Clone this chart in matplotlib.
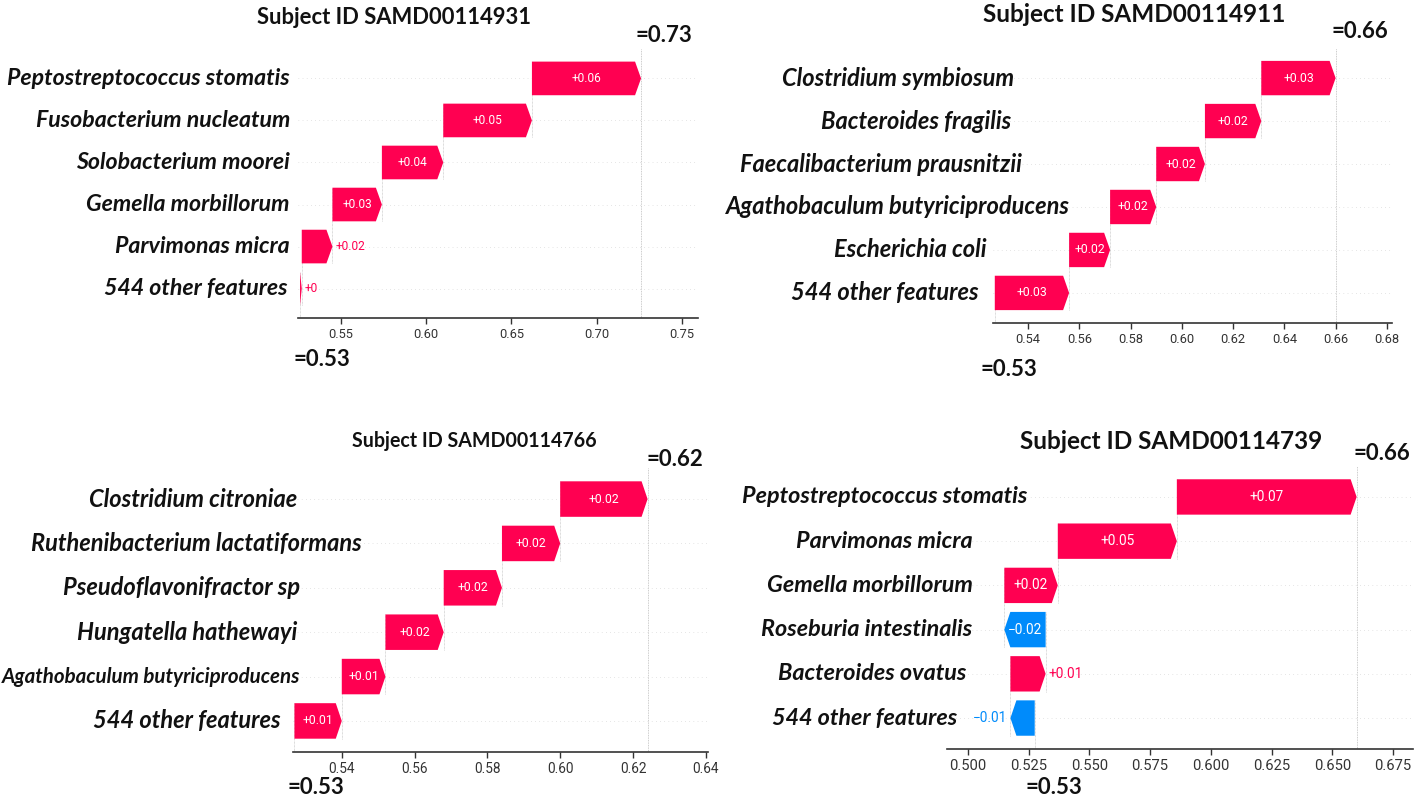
import matplotlib
matplotlib.use("Agg")
import matplotlib.pyplot as plt
import matplotlib.transforms as mtransforms
from matplotlib.ticker import FormatStrFormatter

# four SHAP waterfall panels, rows listed top to bottom as drawn

p1_title = "Subject ID SAMD00114931"
p1_features = ["Peptostreptococcus stomatis", "Fusobacterium nucleatum",
               "Solobacterium moorei", "Gemella morbillorum",
               "Parvimonas micra", "544 other features"]
p1_shap = [0.064, 0.052, 0.036, 0.029, 0.018, 0.001]
p1_base = 0.526
p1_ticks = [0.55, 0.60, 0.65, 0.70, 0.75]

p2_title = "Subject ID SAMD00114911"
p2_features = ["Clostridium symbiosum", "Bacteroides fragilis",
               "Faecalibacterium prausnitzii", "Agathobaculum butyriciproducens",
               "Escherichia coli", "544 other features"]
p2_shap = [0.029, 0.022, 0.019, 0.018, 0.016, 0.029]
p2_base = 0.527
p2_ticks = [0.54, 0.56, 0.58, 0.60, 0.62, 0.64, 0.66, 0.68]

p3_title = "Subject ID SAMD00114766"
p3_features = ["Clostridium citroniae", "Ruthenibacterium lactatiformans",
               "Pseudoflavonifractor sp", "Hungatella hathewayi",
               "Agathobaculum butyriciproducens", "544 other features"]
p3_shap = [0.024, 0.016, 0.016, 0.016, 0.012, 0.013]
p3_base = 0.527
p3_ticks = [0.54, 0.56, 0.58, 0.60, 0.62, 0.64]

p4_title = "Subject ID SAMD00114739"
p4_features = ["Peptostreptococcus stomatis", "Parvimonas micra",
               "Gemella morbillorum", "Roseburia intestinalis",
               "Bacteroides ovatus", "544 other features"]
p4_shap = [0.074, 0.049, 0.022, -0.017, 0.0145, -0.010]
p4_base = 0.5275
p4_ticks = [0.500, 0.525, 0.550, 0.575, 0.600, 0.625, 0.650, 0.675]

W, H = 1416, 796
RED = "#ff0051"
BLUE = "#008bfb"
LABEL_FONT = "Lato"
NUM_FONT = "Roboto"

# layout in pixels of the 1416x796 canvas
layouts = [
    dict(box=(298, 49, 698, 318), xlim=(0.5248, 0.7594), fmt="%.2f",
         label_right=[290, 290, 290, 290, 290, 288], label_size=[16.7] * 6,
         title_xy=(394, 18), title_size=15.8, fx_dx=-6, fx_y=35,
         base_dx=-7, base_y=360, tick_size=9.3, bar_size=8.6),
    dict(box=(993, 48, 1392, 323), xlim=(0.5263, 0.682), fmt="%.2f",
         label_right=[1014, 1011, 1022, 1070, 987, 979], label_size=[17] * 6,
         title_xy=(1134, 15), title_size=17.5, fx_dx=-4, fx_y=31,
         base_dx=-14, base_y=370, tick_size=9.3, bar_size=8.8),
    dict(box=(293, 468, 708, 752), xlim=(0.5266, 0.6406), fmt="%.2f",
         label_right=[297, 362, 300, 297, 300, 281],
         label_size=[17, 17, 17, 17, 14.8, 17],
         title_xy=(474, 441), title_size=14.1, fx_dx=-1, fx_y=459,
         base_dx=-7, base_y=787, tick_size=9.8, bar_size=8.8),
    dict(box=(947, 466, 1413, 749), xlim=(0.4914, 0.6832), fmt="%.3f",
         label_right=[1027, 973, 973, 972, 966, 957], label_size=[16.8] * 6,
         title_xy=(1171, 441), title_size=17.5, fx_dx=-3, fx_y=453,
         base_dx=-9, base_y=787, tick_size=10.6, bar_size=9.8),
]

panels = [
    (p1_title, p1_features, p1_shap, p1_base, p1_ticks),
    (p2_title, p2_features, p2_shap, p2_base, p2_ticks),
    (p3_title, p3_features, p3_shap, p3_base, p3_ticks),
    (p4_title, p4_features, p4_shap, p4_base, p4_ticks),
]


def format_value(v):
    # shap style: +0.02, +0, -> unicode minus
    s = "%+0.02f" % v
    s = s.rstrip("0").rstrip(".")
    return s.replace("-", "\u2212")


fig = plt.figure(figsize=(W / 100, H / 100), dpi=100)
fig.patch.set_facecolor("white")
renderer = fig.canvas.get_renderer()


def px_text(x, y, s, **kw):
    fig.text(x / W, 1 - y / H, s, **kw)


for (title, feats, vals, base, ticks), lay in zip(panels, layouts):
    l, t, r, b = lay["box"]
    ax = fig.add_axes([l / W, 1 - b / H, (r - l) / W, (b - t) / H])
    n = len(feats)
    ax.set_xlim(*lay["xlim"])
    ax.set_ylim(-0.7, n - 0.3)
    rows = list(range(n - 1, -1, -1))

    # cumulative starts, from the bottom row upward
    lefts = [0.0] * n
    pos = base
    for i in range(n - 1, -1, -1):
        lefts[i] = pos
        pos += vals[i]
    fx = pos

    # px per data unit
    xscale = (r - l) / (lay["xlim"][1] - lay["xlim"][0])
    hl = 6 / xscale

    for i in range(n):
        ax.axhline(rows[i], color="#cccccc", lw=0.5, dashes=(1, 5), zorder=-1)
    for i in range(n - 1):
        x = lefts[i]
        ax.plot([x, x], [rows[i] - 1 - 0.4, rows[i] + 0.4], color="#bbbbbb",
                lw=0.5, dashes=(1, 1), zorder=-1)
    ax.axvline(fx, color="#bbbbbb", lw=0.6, dashes=(1, 1), zorder=-1)
    ax.plot([base, base], [-0.7, 0.4], color="#bbbbbb", lw=0.5,
            dashes=(1, 1), zorder=-1)

    for i in range(n):
        v = vals[i]
        col = RED if v > 0 else BLUE
        ax.arrow(lefts[i], rows[i], v, 0, width=0.8, head_width=0.8,
                 head_length=min(abs(v), hl), length_includes_head=True,
                 color=col, linewidth=0)
        txt = format_value(v)
        w_px = abs(v) * xscale
        tmp = ax.text(0, 0, txt, fontsize=lay["bar_size"], family=NUM_FONT)
        tw = tmp.get_window_extent(renderer).width
        tmp.remove()
        if w_px > tw + 5:
            ax.text(lefts[i] + v / 2, rows[i], txt, color="white",
                    fontsize=lay["bar_size"], family=NUM_FONT,
                    ha="center", va="center")
        elif v > 0:
            ax.text(lefts[i] + v + 3 / xscale, rows[i], txt, color=RED,
                    fontsize=lay["bar_size"], family=NUM_FONT,
                    ha="left", va="center")
        else:
            ax.text(lefts[i] + v - 3 / xscale, rows[i], txt, color=BLUE,
                    fontsize=lay["bar_size"], family=NUM_FONT,
                    ha="right", va="center")

    # feature names
    trans = mtransforms.blended_transform_factory(fig.transFigure, ax.transData)
    for i in range(n):
        ax.text(lay["label_right"][i] / W, rows[i], feats[i], transform=trans,
                ha="right", va="center", fontsize=lay["label_size"][i],
                family=LABEL_FONT, fontweight="bold", style="italic",
                color="#111111")

    for side in ["left", "right", "top"]:
        ax.spines[side].set_visible(False)
    ax.spines["bottom"].set_color("#333333")
    ax.spines["bottom"].set_linewidth(1.2)
    ax.set_yticks([])
    ax.set_xticks(ticks)
    ax.xaxis.set_major_formatter(FormatStrFormatter(lay["fmt"]))
    ax.tick_params(axis="x", labelsize=lay["tick_size"], colors="#333333",
                   length=4, width=1)
    for lab in ax.get_xticklabels():
        lab.set_family(NUM_FONT)
    ax.patch.set_alpha(0)

    # title and the two value labels
    px_text(lay["title_xy"][0], lay["title_xy"][1], title, ha="center",
            va="center", fontsize=lay["title_size"], family=LABEL_FONT,
            fontweight="bold", color="#111111")
    tx = mtransforms.blended_transform_factory(ax.transData, fig.transFigure)
    ax.text(fx, 1 - lay["fx_y"] / H, "=%.2f" % fx,
            transform=mtransforms.offset_copy(tx, fig=fig, x=lay["fx_dx"], y=0, units="dots"),
            ha="left", va="center", fontsize=16, family=LABEL_FONT,
            fontweight="bold", color="#111111", clip_on=False)
    ax.text(base, 1 - lay["base_y"] / H, "=%.2f" % base,
            transform=mtransforms.offset_copy(tx, fig=fig, x=lay["base_dx"], y=0, units="dots"),
            ha="left", va="center", fontsize=16, family=LABEL_FONT,
            fontweight="bold", color="#111111", clip_on=False)

fig.savefig("out.png", dpi=100, facecolor="white")
